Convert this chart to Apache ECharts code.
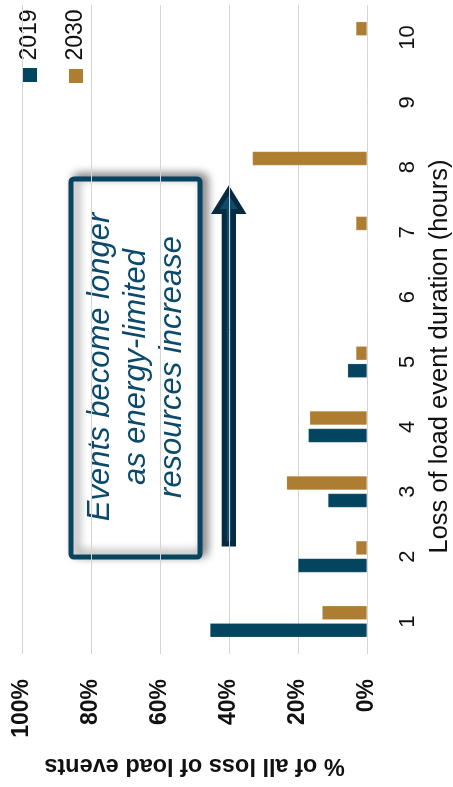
<!DOCTYPE html>
<html>
<head>
<meta charset="utf-8">
<script src="https://cdn.jsdelivr.net/npm/echarts@6/dist/echarts.min.js"></script>
<style>
html,body{margin:0;padding:0;background:#fff;}
#chart{width:453px;height:787px;}
</style>
</head>
<body>
<div id="chart"></div>
<script>
const categories = ['1','2','3','4','5','6','7','8','9','10'];
const series2019 = [45.5, 20, 11.3, 17, 5.6, 0, 0, 0, 0, 0];
const series2030 = [13, 3.2, 23.3, 16.6, 3.2, 0, 3.2, 33.2, 0, 3.2];
const seriesNames = ['2019', '2030'];
const valueTicks = [0, 20, 40, 60, 80, 100];
const xTitle = '% of all loss of load events';
const yTitle = 'Loss of load event duration (hours)';
const calloutText = 'Events become longer\nas energy-limited\nresources increase';

const C2019 = '#03455f';
const C2030 = '#ad7e31';
const FONT = 'Liberation Sans, Arial, sans-serif';

const chart = echarts.init(document.getElementById('chart'), null, {renderer: 'canvas'});
chart.setOption({
  animation: false,
  backgroundColor: '#ffffff',
  grid: {left: 22, right: 86, top: 5, bottom: 133, containLabel: false, outerBoundsMode: 'none'},
  xAxis: {
    type: 'value',
    inverse: true,
    min: valueTicks[0],
    max: valueTicks[valueTicks.length - 1],
    interval: 20,
    axisLine: {show: false},
    axisTick: {show: false},
    splitLine: {show: true, lineStyle: {color: '#d4d4d4', width: 1}},
    axisLabel: {
      rotate: 90, margin: 25, color: '#111', fontSize: 23, fontWeight: 'bold', fontFamily: FONT,
      formatter: '{value}%'
    },
    name: xTitle,
    nameLocation: 'middle',
    nameRotate: 180,
    nameGap: 99,
    nameTextStyle: {color: '#111', fontSize: 23.5, fontWeight: 'bold', fontFamily: FONT}
  },
  yAxis: {
    type: 'category',
    position: 'right',
    data: categories,
    axisLine: {show: false},
    axisTick: {show: false},
    axisLabel: {rotate: 90, margin: 30, color: '#111', fontSize: 22, fontFamily: FONT},
    name: yTitle,
    nameLocation: 'middle',
    nameRotate: 90,
    nameGap: 58,
    nameTextStyle: {color: '#111', fontSize: 25.5, fontFamily: FONT, padding: [0, 54, 0, 0]}
  },
  series: [
    {name: seriesNames[1], type: 'bar', data: series2030, barWidth: 14, barGap: '25%',
     itemStyle: {color: C2030, borderColor: 'rgba(255,255,255,0.35)', borderWidth: 0.5}},
    {name: seriesNames[0], type: 'bar', data: series2019, barWidth: 14, barGap: '25%',
     itemStyle: {color: C2019, borderColor: 'rgba(255,255,255,0.35)', borderWidth: 0.5}}
  ],
  graphic: [
    // legend
    {type: 'text', x: 30, y: 35, rotation: Math.PI / 2,
     style: {text: seriesNames[0], fill: '#111', font: '23px ' + FONT, align: 'center', verticalAlign: 'middle'}},
    {type: 'rect', shape: {x: 22, y: 68, width: 15, height: 14}, style: {fill: C2019}},
    {type: 'text', x: 76, y: 35, rotation: Math.PI / 2,
     style: {text: seriesNames[1], fill: '#111', font: '23px ' + FONT, align: 'center', verticalAlign: 'middle'}},
    {type: 'rect', shape: {x: 69, y: 69, width: 14, height: 14}, style: {fill: C2030}},
    // callout box
    {type: 'rect', shape: {x: 71, y: 179, width: 129, height: 378, r: 3},
     style: {fill: '#ffffff', stroke: '#06445f', lineWidth: 5,
             shadowBlur: 10, shadowColor: 'rgba(0,0,0,0.45)', shadowOffsetX: 5, shadowOffsetY: -3}},
    {type: 'text', x: 136, y: 367, rotation: Math.PI / 2,
     style: {text: calloutText, fill: '#0b4a6b', font: 'italic 31px ' + FONT,
             align: 'center', verticalAlign: 'middle', lineHeight: 36}},
    // arrow
    {type: 'polygon',
     shape: {points: [[228.8, 190], [242, 211.5], [233.5, 211.5], [233.5, 544], [224.2, 544], [224.2, 211.5], [215.5, 211.5]]},
     style: {fill: '#0e4c6e', stroke: '#062a40', lineWidth: 5, lineJoin: 'miter'}}
  ]
});
</script>
</body>
</html>
